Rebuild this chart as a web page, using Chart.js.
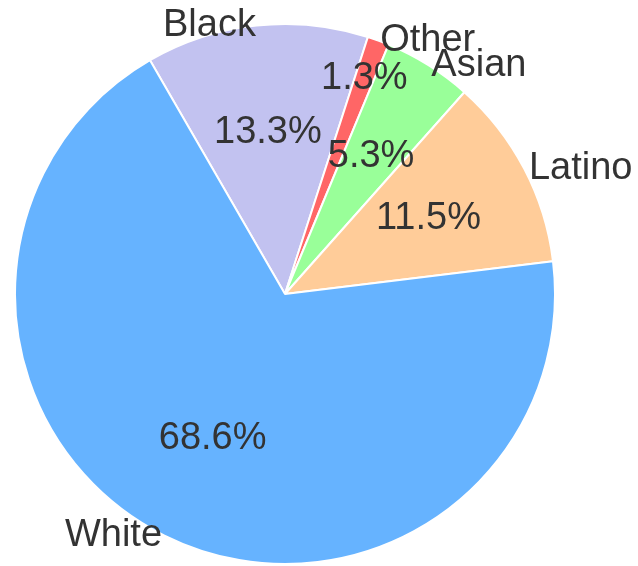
<!DOCTYPE html>
<html>
<head>
<meta charset="utf-8">
<script src="https://cdn.jsdelivr.net/npm/chart.js@4"></script>
<style>
  html, body { margin: 0; padding: 0; background: #fff; }
  #wrap { width: 638px; height: 566px; }
</style>
</head>
<body>
<div id="wrap"><canvas id="pie" width="638" height="566"></canvas></div>
<script>
// slices, clockwise from the Black/White edge
const groups = ["Black", "Other", "Asian", "Latino", "White"];
const shares = [13.3, 1.3, 5.3, 11.5, 68.6];
const sliceColors = ["#c2c2f0", "#ff6666", "#99ff99", "#ffcc99", "#66b3ff"];
// how far out each percentage sits (fraction of radius); the thin slice's is pushed out
const pctDist = [0.6, 0.85, 0.6, 0.6, 0.6];

const FONT = '38px "Liberation Sans", Arial, sans-serif';
const TEXT = "#333333";

// draw outer names and inner percentages like matplotlib does
const pieLabels = {
  id: "pieLabels",
  afterDatasetsDraw(chart) {
    const ctx = chart.ctx;
    const meta = chart.getDatasetMeta(0);
    const total = shares.reduce((a, b) => a + b, 0);
    ctx.save();
    ctx.font = FONT;
    ctx.fillStyle = TEXT;
    ctx.textBaseline = "middle";
    meta.data.forEach((arc, i) => {
      const { x, y, startAngle, endAngle, outerRadius } = arc.getProps(
        ["x", "y", "startAngle", "endAngle", "outerRadius"], true);
      const mid = (startAngle + endAngle) / 2;
      const c = Math.cos(mid), s = Math.sin(mid);

      // percentage
      const rp = outerRadius * pctDist[i];
      ctx.textAlign = "center";
      ctx.fillText((shares[i] / total * 100).toFixed(1) + "%", x + c * rp, y + s * rp);

      // group name, just outside the rim
      ctx.textAlign = c >= 0 ? "left" : "right";
      ctx.fillText(groups[i], x + c * outerRadius * 1.02, y + s * outerRadius);
    });
    ctx.restore();
  }
};

new Chart(document.getElementById("pie"), {
  type: "pie",
  data: {
    labels: groups,
    datasets: [{
      data: shares,
      backgroundColor: sliceColors,
      borderColor: "#ffffff",
      borderWidth: 2,
      hoverOffset: 0
    }]
  },
  options: {
    responsive: false,
    animation: false,
    rotation: -30,
    layout: { padding: { left: 14, right: 82, top: 23, bottom: 1 } },
    plugins: {
      legend: { display: false },
      tooltip: { enabled: false }
    }
  },
  plugins: [pieLabels]
});
</script>
</body>
</html>
